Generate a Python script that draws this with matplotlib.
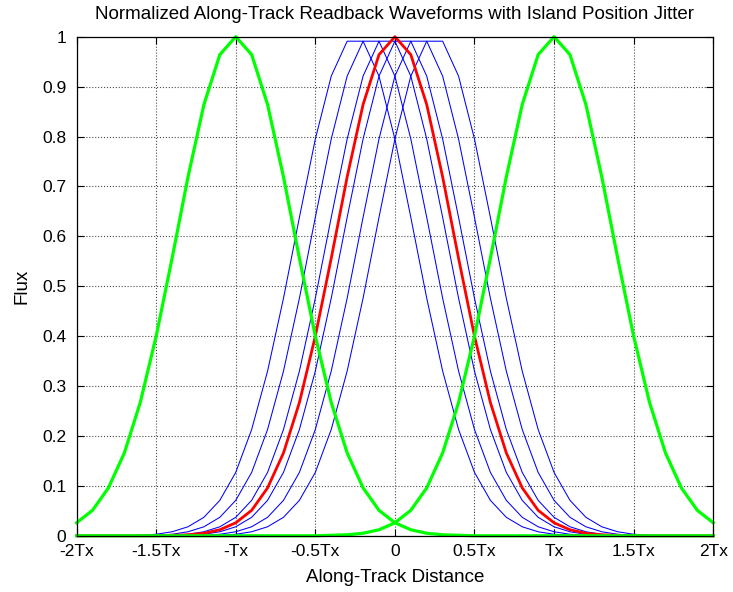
import matplotlib
matplotlib.use('Agg')
import matplotlib.pyplot as plt
import numpy as np

plt.rcParams['font.family'] = ['Liberation Sans', 'DejaVu Sans']

# sample positions along track (in units of Tx)
x = np.arange(-20, 21) / 10.0

# normalized pulse, value vs |distance from centre| in steps of 0.05 Tx
pulse_step = 0.05
pulse = [1.000, 0.991, 0.964, 0.921, 0.864, 0.795, 0.719, 0.638, 0.556, 0.476,
         0.400, 0.330, 0.267, 0.213, 0.166, 0.127, 0.096, 0.071, 0.051, 0.037,
         0.026, 0.018, 0.012, 0.008, 0.005, 0.003, 0.002, 0.001, 0.001, 0.000]

# island centres
blue_centers = [-0.25, -0.15, -0.05, 0.05, 0.15, 0.25]   # jittered
red_center = 0.0                                         # nominal
green_centers = [-1.0, 1.0]                              # neighbours

xticks = [-2, -1.5, -1, -0.5, 0, 0.5, 1, 1.5, 2]
xticklabels = ['-2Tx', '-1.5Tx', '-Tx', '-0.5Tx', '0', '0.5Tx', 'Tx', '1.5Tx', '2Tx']
yticks = [0, 0.1, 0.2, 0.3, 0.4, 0.5, 0.6, 0.7, 0.8, 0.9, 1]
yticklabels = ['0', '0.1', '0.2', '0.3', '0.4', '0.5', '0.6', '0.7', '0.8', '0.9', '1']


def waveform(c):
    tbl = np.array(pulse)
    idx = np.rint(np.abs(x - c) / pulse_step).astype(int)
    return np.where(idx < len(tbl), tbl[np.minimum(idx, len(tbl) - 1)], 0.0)


fig = plt.figure(figsize=(7.33, 5.92), dpi=100)
ax = fig.add_axes([0.1045, 0.095, 0.8685, 0.843])

for c in blue_centers:
    ax.plot(x, waveform(c), color=(0, 0, 1), lw=0.75, clip_on=False)
ax.plot(x, waveform(red_center), color=(1, 0, 0), lw=2.0, clip_on=False)
for c in green_centers:
    ax.plot(x, waveform(c), color=(0, 1, 0), lw=2.3, clip_on=False)

ax.set_xlim(-2, 2)
ax.set_ylim(0, 1)
ax.set_xticks(xticks)
ax.set_xticklabels(xticklabels)
ax.set_yticks(yticks)
ax.set_yticklabels(yticklabels)
ax.grid(True, linestyle=':', color='0.3', lw=0.8)
ax.set_axisbelow(True)
ax.tick_params(direction='in', length=5, width=0.8, top=True, right=True,
               labelsize=12.5)
ax.tick_params(axis='y', pad=7.5)
ax.tick_params(axis='x', pad=6)
for s in ax.spines.values():
    s.set_linewidth(0.9)

ax.set_title('Normalized Along-Track Readback Waveforms with Island Position Jitter',
             fontsize=13.5, pad=13)
ax.set_xlabel('Along-Track Distance', fontsize=13.5, labelpad=7)
ax.set_ylabel('Flux', fontsize=13.5, labelpad=8)

fig.savefig('out.png', dpi=100)
